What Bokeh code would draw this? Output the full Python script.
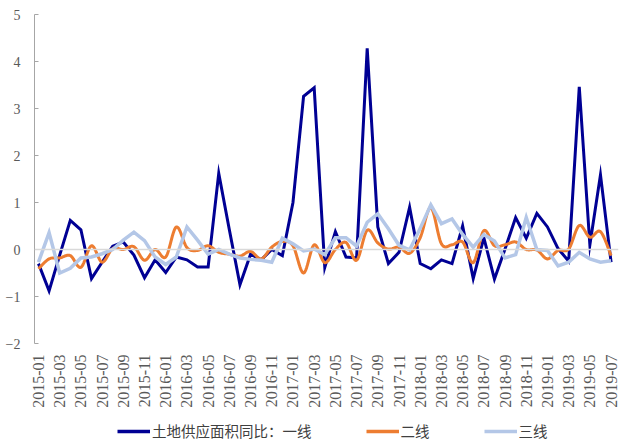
import numpy as np
from bokeh.plotting import figure
from bokeh.layouts import column
from bokeh.models import Range1d, FixedTicker, Span, Legend, LegendItem
from bokeh.embed import file_html
from bokeh.resources import INLINE

# ---- data ----
months = [f"{y}-{m:02d}" for y in range(2015, 2020) for m in range(1, 13)][:55]

tier1 = [-0.30, -0.88, -0.12, 0.62, 0.42, -0.62, -0.27, 0.07, 0.16, -0.12,
         -0.60, -0.22, -0.49, -0.16, -0.22, -0.37, -0.37, 1.62, 0.42, -0.75,
         -0.10, -0.22, 0.00, -0.13, 1.00, 3.26, 3.44, -0.38, 0.38, -0.16,
         -0.18, 4.28, 0.48, -0.30, -0.06, 0.90, -0.30, -0.41, -0.22, -0.30,
         0.50, -0.62, 0.25, -0.63, 0.01, 0.68, 0.24, 0.77, 0.48, 0.02,
         -0.25, 3.46, 0.10, 1.59, -0.27]

tier2 = [-0.41, -0.20, -0.18, -0.13, -0.38, 0.08, -0.27, 0.02, 0.00, 0.06,
         -0.23, 0.00, -0.16, 0.48, 0.04, -0.02, 0.08, -0.06, -0.10, -0.14,
         -0.04, -0.20, 0.05, 0.17, 0.08, -0.50, 0.10, -0.28, 0.00, 0.15,
         -0.23, 0.41, 0.14, 0.01, 0.05, -0.08, 0.25, 0.89, 0.12, 0.10,
         0.16, -0.28, 0.40, 0.08, 0.10, 0.16, 0.00, -0.01, -0.20, -0.02,
         0.01, 0.51, 0.26, 0.38, -0.13]

tier3 = [-0.27, 0.36, -0.50, -0.40, -0.18, -0.16, -0.09, 0.00, 0.20, 0.37,
         0.19, -0.16, -0.32, -0.16, 0.48, 0.20, -0.10, 0.00, -0.10, -0.18,
         -0.21, -0.23, -0.27, 0.24, 0.12, -0.03, 0.01, -0.11, 0.25, 0.25,
         0.07, 0.58, 0.76, 0.44, 0.09, -0.01, 0.45, 0.95, 0.55, 0.65,
         0.32, 0.05, 0.32, 0.18, -0.18, -0.11, 0.68, 0.00, -0.02, -0.35,
         -0.27, -0.06, -0.20, -0.27, -0.24]

series_names = ["土地供应面积同比：一线", "二线", "三线"]
colors = ["#000094", "#ED7D31", "#B4C7E7"]
y_ticks = [-2, -1, 0, 1, 2, 3, 4, 5]


def smooth(xs, ys, n=14):
    xs = np.asarray(xs, float)
    ys = np.asarray(ys, float)
    ox, oy = [], []
    m = len(xs)
    for i in range(m - 1):
        x0, y0 = (xs[i - 1], ys[i - 1]) if i > 0 else (xs[i], ys[i])
        x1, y1 = xs[i], ys[i]
        x2, y2 = xs[i + 1], ys[i + 1]
        x3, y3 = (xs[i + 2], ys[i + 2]) if i + 2 < m else (xs[i + 1], ys[i + 1])
        c1x, c1y = x1 + (x2 - x0) / 6, y1 + (y2 - y0) / 6
        c2x, c2y = x2 - (x3 - x1) / 6, y2 - (y3 - y1) / 6
        for t in np.linspace(0, 1, n, endpoint=False):
            a = (1 - t) ** 3
            b = 3 * (1 - t) ** 2 * t
            c = 3 * (1 - t) * t ** 2
            d = t ** 3
            ox.append(a * x1 + b * c1x + c * c2x + d * x2)
            oy.append(a * y1 + b * c1y + c * c2y + d * y2)
    ox.append(xs[-1])
    oy.append(ys[-1])
    return ox, oy


x = list(range(len(months)))
series = [tier1, tier2, tier3]

# ---- main chart ----
p = figure(width=620, height=410, output_backend="svg", toolbar_location=None,
           x_range=Range1d(-0.376, 54.7), y_range=Range1d(-2, 5),
           min_border_left=34, min_border_right=2, min_border_top=14,
           min_border_bottom=67)
p.outline_line_color = None
p.xgrid.visible = False
p.ygrid.visible = False
p.background_fill_color = "white"
p.border_fill_color = "white"

p.add_layout(Span(location=0, dimension="width", line_color="#D9D9D9", line_width=1.5))

p.line(x, tier1, line_color=colors[0], line_width=3, line_join="miter")
sx, sy = smooth(x, tier2)
p.line(sx, sy, line_color=colors[1], line_width=3, line_join="round")
p.line(x, tier3, line_color=colors[2], line_width=3.5, line_join="miter")

ya = p.yaxis[0]
ya.ticker = FixedTicker(ticks=y_ticks)
ya.axis_line_color = "#A6A6A6"
ya.major_tick_line_color = "#A6A6A6"
ya.major_tick_in = 4
ya.major_tick_out = 0
ya.minor_tick_line_color = None
ya.major_label_standoff = 14
ya.major_label_text_font = "Liberation Serif"
ya.major_label_text_font_size = "14px"
ya.major_label_text_color = "#595959"

xa = p.xaxis[0]
xa.ticker = FixedTicker(ticks=x[::2])
xa.major_label_overrides = {i: months[i] for i in x[::2]}
xa.axis_line_color = None
xa.major_tick_line_color = None
xa.minor_tick_line_color = None
xa.major_label_orientation = np.pi / 2
xa.major_label_standoff = 5
xa.major_label_text_font = "Liberation Serif"
xa.major_label_text_font_size = "16px"
xa.major_label_text_color = "#595959"

# ---- legend strip (series drawn out of view; only legend samples show) ----
p2 = figure(width=620, height=32, output_backend="svg", toolbar_location=None,
            x_axis_type=None, y_axis_type=None,
            x_range=Range1d(0, 54), y_range=Range1d(100, 101), min_border=0)
p2.outline_line_color = None
p2.xgrid.visible = False
p2.ygrid.visible = False
p2.background_fill_color = "white"
p2.border_fill_color = "white"

lr = [p2.line(x, s, line_color=c, line_width=3.5) for s, c in zip(series, colors)]

legend = Legend(items=[LegendItem(label=n, renderers=[r]) for n, r in zip(series_names, lr)],
                orientation="horizontal", location=(83, 1),
                padding=0, margin=0, spacing=54, label_standoff=2,
                glyph_width=33, glyph_height=20, label_height=20,
                border_line_alpha=0, background_fill_alpha=0,
                label_text_font="Noto Sans CJK SC", label_text_font_size="14.5px",
                label_text_color="#404040")
p2.add_layout(legend)

layout = column(p, p2, spacing=0)
open("out.html", "w").write(file_html(layout, INLINE))
